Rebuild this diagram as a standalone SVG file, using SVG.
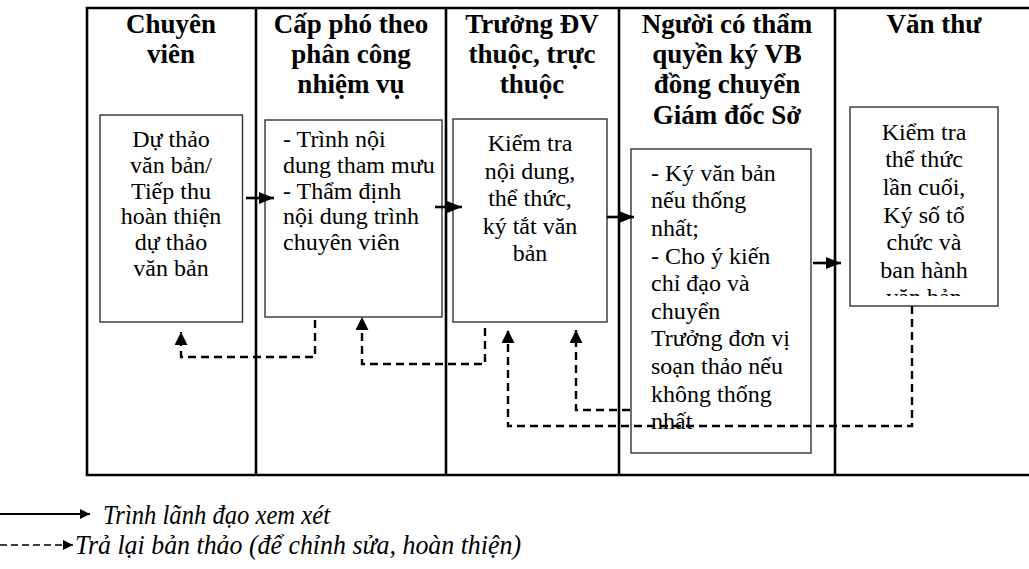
<svg xmlns="http://www.w3.org/2000/svg" width="1029" height="569" viewBox="0 0 1029 569">
<style>
.hdr{font-family:"Liberation Serif","Times New Roman",serif;font-weight:bold;font-size:27px;fill:#000;text-anchor:middle}
.txt{font-family:"Liberation Serif","Times New Roman",serif;font-size:24px;fill:#000}
.c{text-anchor:middle}
.lg{font-family:"Liberation Serif","Times New Roman",serif;font-style:italic;font-size:28px;fill:#000}
.col{stroke:#000;stroke-width:2.6;fill:none}
.box{fill:#fff;stroke:#333;stroke-width:1.4}
.sol{stroke:#000;stroke-width:2.6;fill:none;marker-end:url(#ah)}
.dsh{stroke:#000;stroke-width:2.4;fill:none;stroke-dasharray:8 5;marker-end:url(#ahd)}
</style>
<defs>
<marker id="ah" markerUnits="userSpaceOnUse" markerWidth="15" markerHeight="12" refX="15" refY="6" orient="auto"><path d="M0,0 L15,6 L0,12 z" fill="#000"/></marker>
<marker id="ahd" markerUnits="userSpaceOnUse" markerWidth="13" markerHeight="13" refX="13" refY="6.5" orient="auto"><path d="M0,0 L13,6.5 L0,13 z" fill="#000"/></marker>
<marker id="ahs" markerUnits="userSpaceOnUse" markerWidth="10" markerHeight="10" refX="10" refY="5" orient="auto"><path d="M0,0 L10,5 L0,10 z" fill="#000"/></marker>
<clipPath id="clip5"><rect x="850" y="107" width="148" height="189"/></clipPath>
</defs>
<rect width="1029" height="569" fill="#fff"/>
<g id="table">
<path class="col" d="M1040,8 H87 V475 H1040"/>
<path class="col" d="M256,8 V475 M446,8 V475 M619,8 V475 M835,8 V475"/>
</g>
<g id="headers">
<text class="hdr" x="171" y="33">Chuyên</text>
<text class="hdr" x="171" y="63">viên</text>
<text class="hdr" x="351" y="33">Cấp phó theo</text>
<text class="hdr" x="351" y="63">phân công</text>
<text class="hdr" x="351" y="93">nhiệm vụ</text>
<text class="hdr" x="532" y="33">Trưởng ĐV</text>
<text class="hdr" x="532" y="63">thuộc, trực</text>
<text class="hdr" x="532" y="93">thuộc</text>
<text class="hdr" x="727" y="33">Người có thẩm</text>
<text class="hdr" x="727" y="63">quyền ký VB</text>
<text class="hdr" x="727" y="93">đồng chuyển</text>
<text class="hdr" x="727" y="124">Giám đốc Sở</text>
<text class="hdr" x="934" y="33">Văn thư</text>
</g>
<g id="node1">
<rect class="box" x="100" y="115" width="142.5" height="207"/>
<text class="txt c" x="171" y="147">Dự thảo</text>
<text class="txt c" x="171" y="172.8">văn bản/</text>
<text class="txt c" x="171" y="198.6">Tiếp thu</text>
<text class="txt c" x="171" y="224.4">hoàn thiện</text>
<text class="txt c" x="171" y="250.2">dự thảo</text>
<text class="txt c" x="171" y="276">văn bản</text>
</g>
<g id="node2">
<rect class="box" x="265" y="120" width="177" height="197"/>
<text class="txt" x="283" y="147">- Trình nội</text>
<text class="txt" x="283" y="172.8">dung tham mưu</text>
<text class="txt" x="283" y="198.6">- Thẩm định</text>
<text class="txt" x="283" y="224.4">nội dung trình</text>
<text class="txt" x="283" y="250.2">chuyên viên</text>
</g>
<g id="node3">
<rect class="box" x="453" y="119" width="154" height="203"/>
<text class="txt c" x="530" y="151">Kiểm tra</text>
<text class="txt c" x="530" y="178.6">nội dung,</text>
<text class="txt c" x="530" y="206.2">thể thức,</text>
<text class="txt c" x="530" y="233.8">ký tắt văn</text>
<text class="txt c" x="530" y="261.4">bản</text>
</g>
<g id="node4">
<rect class="box" x="631" y="149" width="180" height="304"/>
<text class="txt" x="651" y="180.7">- Ký văn bản</text>
<text class="txt" x="651" y="208.3">nếu thống</text>
<text class="txt" x="651" y="235.9">nhất;</text>
<text class="txt" x="651" y="263.5">- Cho ý kiến</text>
<text class="txt" x="651" y="291.1">chỉ đạo và</text>
<text class="txt" x="651" y="318.7">chuyển</text>
<text class="txt" x="651" y="346.3">Trưởng đơn vị</text>
<text class="txt" x="651" y="373.9">soạn thảo nếu</text>
<text class="txt" x="651" y="401.5">không thống</text>
<text class="txt" x="651" y="429.1">nhất</text>
</g>
<g id="node5">
<rect class="box" x="850" y="107" width="148" height="199"/>
<g clip-path="url(#clip5)">
<text class="txt c" x="924" y="139.7">Kiểm tra</text>
<text class="txt c" x="924" y="167.3">thể thức</text>
<text class="txt c" x="924" y="194.9">lần cuối,</text>
<text class="txt c" x="924" y="222.5">Ký số tổ</text>
<text class="txt c" x="924" y="250.1">chức và</text>
<text class="txt c" x="924" y="277.7">ban hành</text>
<text class="txt c" x="924" y="305.3">văn bản</text>
</g>
</g>
<g id="connectors">
<path class="sol" d="M246,198 H274"/>
<path class="sol" d="M435,207 H462"/>
<path class="sol" d="M607,217 H634"/>
<path class="sol" d="M813,263 H841"/>
<path class="dsh" d="M315,320 V357 H181 V332"/>
<path class="dsh" d="M485,328 V364 H362 V317"/>
<path class="dsh" d="M630,410 H576 V330"/>
<path class="dsh" d="M912,306 V426 H508 V330"/>
</g>
<g id="legend">
<path d="M0,514 H90" stroke="#000" stroke-width="2.2" fill="none" marker-end="url(#ahs)"/>
<text class="lg" x="103" y="524" textLength="227" lengthAdjust="spacingAndGlyphs">Trình lãnh đạo xem xét</text>
<path d="M0,545 H73" stroke="#000" stroke-width="1.6" stroke-dasharray="7 4" fill="none" marker-end="url(#ahs)"/>
<text class="lg" x="75" y="554" textLength="446" lengthAdjust="spacingAndGlyphs">Trả lại bản thảo (để chỉnh sửa, hoàn thiện)</text>
</g>
</svg>
